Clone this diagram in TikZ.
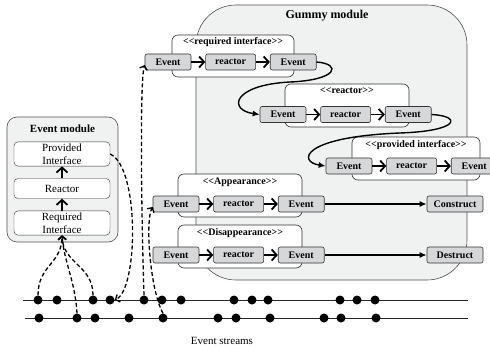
\documentclass[tikz,border=0pt]{standalone}
\usepackage{fontspec}
\setmainfont{Liberation Serif}
\usepackage{tikz}
\usetikzlibrary{arrows.meta,positioning}
\definecolor{modfill}{RGB}{240,242,242}
\definecolor{evfill}{RGB}{214,215,217}
\definecolor{edge}{RGB}{80,80,80}
\newcommand{\stereo}[1]{<\kern0pt<#1>\kern0pt>}

\begin{document}
\begin{tikzpicture}[x=1pt, y=-1pt,
			module/.style={draw=edge, fill=modfill, line width=0.6pt},
			grp/.style={draw=black!80, fill=white, rounded corners=6pt, line width=0.6pt},
			ev/.style={draw=black!80, fill=evfill, rounded corners=2pt, font=\bfseries, minimum width=46pt, minimum height=16pt, inner sep=1pt, line width=0.6pt},
			rc/.style={ev, minimum width=50pt},
			sink/.style={ev, minimum width=56pt},
			em/.style={draw=black!80, fill=white, rounded corners=4pt, text width=92pt, align=center, inner sep=2pt, minimum height=20pt, font=\fontsize{11}{12.5}\selectfont},
			flow/.style={-{Straight Barb[length=5pt,width=11pt]}, line width=1.8pt},
			curl/.style={-{Latex[length=7pt,width=6pt]}, line width=1.4pt},
			feed/.style={-{Straight Barb[length=3.5pt,width=8pt]}, line width=1.3pt, dash pattern=on 4pt off 2.5pt},
			dot/.style={circle, fill=black, inner sep=0pt, minimum size=9pt},
			stream/.style={line width=0.8pt, black!85},
			lbl/.style={font=\bfseries}
		]
		\useasboundingbox (0,0) rectangle (490,350);

		% gummy module and its groups
		\draw[module, rounded corners=40pt] (196,5) rectangle (467,280);
		\node[font=\fontsize{12}{14}\selectfont\bfseries] (gtitle) at (327,16) {Gummy module};

		\draw[grp] (172,35) rectangle (294,77);
		\draw[grp] (285,84) rectangle (409,127);
		\draw[grp] (352,137) rectangle (480,180);
		\draw[grp] (178,174) rectangle (302,217);
		\draw[grp] (178,225) rectangle (302,268);

		\node[lbl] (lri) at (233,42) {\stereo{required interface}};
		\node[lbl] (lrr) at (347,91) {\stereo{reactor}};
		\node[lbl] (lrp) at (416,145) {\stereo{provided interface}};
		\node[lbl] (lra) at (240,182) {\stereo{Appearance}};
		\node[lbl] (lrd) at (240,233) {\stereo{Disappearance}};

		\node[ev] (ri1) at (168,62) {Event};
		\node[rc, right=14pt of ri1] (ri2) {reactor};
		\node[ev, right=14pt of ri2] (ri3) {Event};

		\node[ev] (rr1) at (283,114.5) {Event};
		\node[rc, right=14pt of rr1] (rr2) {reactor};
		\node[ev, right=14pt of rr2] (rr3) {Event};

		\node[ev] (rp1) at (349,166) {Event};
		\node[rc, right=14pt of rp1] (rp2) {reactor};
		\node[ev, right=14pt of rp2] (rp3) {Event};

		\node[ev] (ra1) at (176,204) {Event};
		\node[rc, right=14pt of ra1] (ra2) {reactor};
		\node[ev, right=14pt of ra2] (ra3) {Event};
		\node[sink] (con) at (455,204) {Construct};

		\node[ev] (rd1) at (176,255) {Event};
		\node[rc, right=14pt of rd1] (rd2) {reactor};
		\node[ev, right=14pt of rd2] (rd3) {Event};
		\node[sink] (des) at (455,255) {Destruct};

		\foreach \g in {ri,rr,rp,ra,rd} {
			\draw[flow] (\g1) -- (\g2);
			\draw[flow] (\g2) -- (\g3);
		}
		\draw[curl] (ri3.east) .. controls (342,64) and (338,80) .. (290,82) .. controls (232,85) and (228,110) .. (rr1.west);
		\draw[curl] (rr3.east) .. controls (462,116) and (460,131) .. (400,133) .. controls (300,137) and (298,162) .. (rp1.west);
		\draw[curl] (ra3) -- (con);
		\draw[curl] (rd3) -- (des);

		% event module
		\draw[module, rounded corners=10pt] (7,117) rectangle (118,242);
		\node[lbl, font=\fontsize{11}{13}\selectfont\bfseries] (etitle) at (62.5,129) {Event module};
		\node[em] (pi) at (62,154) {Provided\\Interface};
		\node[em, below=12pt of pi] (re) {Reactor};
		\node[em, below=12pt of re] (rq) {Required\\Interface};
		\draw[flow] (rq) -- (re);
		\draw[flow] (re) -- (pi);

		% event streams
		\coordinate (s1) at (23,300);
		\coordinate (e1) at (468,300);
		\coordinate (s2) at (25,318);
		\coordinate (e2) at (468,318);
		\draw[stream] (s1) -- (e1);
		\draw[stream] (s2) -- (e2);
		\foreach \x [count=\i] in {38,57,93,110,144,162,181,234,252,268,340,357,375}
			\node[dot] (a\i) at (\x,300) {};
		\foreach \x [count=\i] in {39,77,95,129,163,218,236,270,324,341,376}
			\node[dot] (b\i) at (\x,318) {};
		\node[font=\fontsize{11}{13}\selectfont] (streams) at (222,341) {Event streams};

		\draw[feed] (a1.north) .. controls (38,265) and (62,264) .. (rq.south);
		\draw[feed] (a3.north) .. controls (93,265) and (63,264) .. (rq.south);
		\draw[feed] (b2.north) .. controls (75,280) and (64,262) .. (rq.south);
		\draw[feed] (pi.east) .. controls (140,168) and (138,290) .. (a4.east);
		\draw[feed] (a5.north) .. controls (141,200) and (140,80) .. ([yshift=-3pt]ri1.west);
		\draw[feed] (b5.north) .. controls (150,290) and (145,220) .. ([yshift=-3pt]ra1.west);

	\end{tikzpicture}
\end{document}
